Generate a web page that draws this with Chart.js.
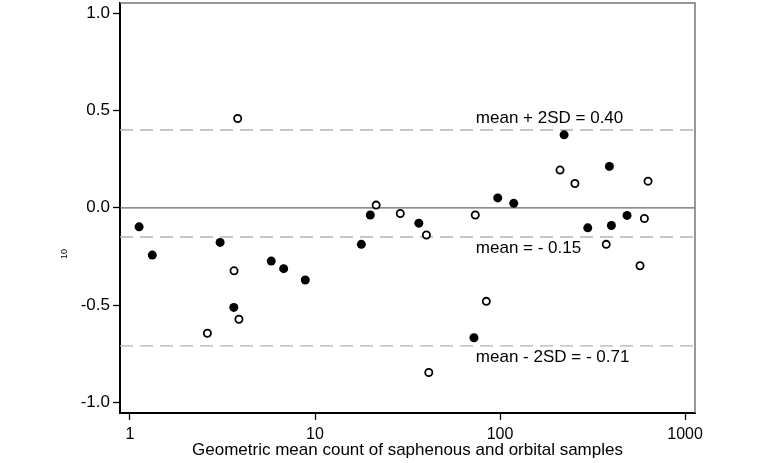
<!DOCTYPE html>
<html>
<head>
<meta charset="utf-8">
<script src="https://cdn.jsdelivr.net/npm/chart.js@4.4.1/dist/chart.umd.min.js"></script>
<style>
  body { margin: 0; background: #fff; }
  #wrap { width: 763px; height: 463px; }
</style>
</head>
<body>
<div id="wrap"><canvas id="bland" width="763" height="463"></canvas></div>
<script>
// geometric mean count (x) and log10 difference (y)
const filledX = [1.12, 1.32, 3.07, 3.64, 5.8, 6.77, 8.86, 17.8, 19.9, 36.4, 72.3, 97.2, 118.6, 222, 298, 390, 400, 486];
const filledY = [-0.098, -0.243, -0.178, -0.512, -0.274, -0.313, -0.371, -0.188, -0.037, -0.079, -0.668, 0.051, 0.023, 0.375, -0.103, 0.213, -0.091, -0.039];
const openX = [2.62, 3.65, 3.82, 3.88, 21.4, 28.9, 40.0, 41.2, 73.5, 84.3, 211, 254, 375, 571, 603, 631];
const openY = [-0.645, -0.324, 0.459, -0.573, 0.014, -0.029, -0.140, -0.847, -0.037, -0.481, 0.194, 0.125, -0.188, -0.298, -0.055, 0.137];

const xTicks = [1, 10, 100, 1000];
const yTicks = [-1.0, -0.5, 0.0, 0.5, 1.0];

const limitValues = [0.40, -0.15, -0.71];
const limitLabels = ['mean + 2SD = 0.40', 'mean = - 0.15', 'mean - 2SD = - 0.71'];

const FONT = '"Liberation Sans", Arial, sans-serif';

function pts(xs, ys) { return xs.map((x, i) => ({ x: x, y: ys[i] })); }

const refLines = {
  id: 'refLines',
  beforeDatasetsDraw(chart) {
    const { ctx, chartArea: a, scales: { x, y } } = chart;
    ctx.save();
    // zero line
    ctx.strokeStyle = '#666';
    ctx.lineWidth = 1.3;
    ctx.beginPath();
    ctx.moveTo(a.left, y.getPixelForValue(0));
    ctx.lineTo(a.right, y.getPixelForValue(0));
    ctx.stroke();
    // mean and limits
    ctx.strokeStyle = '#b4b4b4';
    ctx.setLineDash([13, 7]);
    limitValues.forEach(v => {
      const py = y.getPixelForValue(v);
      ctx.beginPath();
      ctx.moveTo(a.left, py);
      ctx.lineTo(a.right, py);
      ctx.stroke();
    });
    ctx.setLineDash([]);
    // labels
    ctx.fillStyle = '#000';
    ctx.font = '17px ' + FONT;
    ctx.textAlign = 'left';
    ctx.textBaseline = 'middle';
    const lx = x.getPixelForValue(74);
    limitValues.forEach((v, i) => {
      const py = y.getPixelForValue(v);
      ctx.fillText(limitLabels[i], lx, i === 0 ? py - 12 : py + 11);
    });
    // top and right frame
    ctx.strokeStyle = '#777';
    ctx.lineWidth = 1.5;
    ctx.beginPath();
    ctx.moveTo(a.left, a.top);
    ctx.lineTo(a.right, a.top);
    ctx.lineTo(a.right, a.bottom);
    ctx.stroke();
    // tiny y label
    ctx.font = '9px ' + FONT;
    ctx.textAlign = 'center';
    ctx.translate(65, 254);
    ctx.rotate(-Math.PI / 2);
    ctx.fillText('10', 0, 0);
    ctx.restore();
  }
};

new Chart(document.getElementById('bland'), {
  type: 'scatter',
  data: {
    datasets: [
      {
        label: 'filled',
        data: pts(filledX, filledY),
        pointRadius: 4.5,
        pointBackgroundColor: '#000',
        pointBorderColor: '#000',
        pointBorderWidth: 0
      },
      {
        label: 'open',
        data: pts(openX, openY),
        pointRadius: 3.6,
        pointBackgroundColor: '#fff',
        pointBorderColor: '#000',
        pointBorderWidth: 1.8
      }
    ]
  },
  options: {
    responsive: false,
    animation: false,
    layout: { autoPadding: false, padding: { top: 3, right: 68, left: 0, bottom: 0 } },
    plugins: { legend: { display: false }, tooltip: { enabled: false } },
    scales: {
      x: {
        type: 'logarithmic',
        min: 0.883,
        max: 1132,
        afterBuildTicks: s => { s.ticks = xTicks.map(v => ({ value: v })); },
        afterFit: s => { s.height = 50; s.paddingLeft = 0; s.paddingRight = 0; },
        ticks: {
          autoSkip: false, maxRotation: 0, padding: 5, color: '#000',
          font: { family: FONT, size: 16 },
          callback: v => String(v)
        },
        grid: { drawOnChartArea: false, tickLength: 7, tickColor: '#000', tickWidth: 1.3 },
        border: { color: '#000', width: 2 },
        title: {
          display: true,
          text: 'Geometric mean count of saphenous and orbital samples',
          color: '#000',
          font: { family: FONT, size: 17 },
          padding: { top: 0, bottom: 2 }
        }
      },
      y: {
        min: -1.055,
        max: 1.053,
        afterBuildTicks: s => { s.ticks = yTicks.map(v => ({ value: v })); },
        afterFit: s => { s.width = 120; s.paddingTop = 0; s.paddingBottom = 0; },
        ticks: {
          padding: 3, color: '#000',
          font: { family: FONT, size: 17 },
          callback: v => v.toFixed(1)
        },
        grid: { drawOnChartArea: false, tickLength: 7, tickColor: '#000', tickWidth: 1.3 },
        border: { color: '#000', width: 2 }
      }
    }
  },
  plugins: [refLines]
});
</script>
</body>
</html>
